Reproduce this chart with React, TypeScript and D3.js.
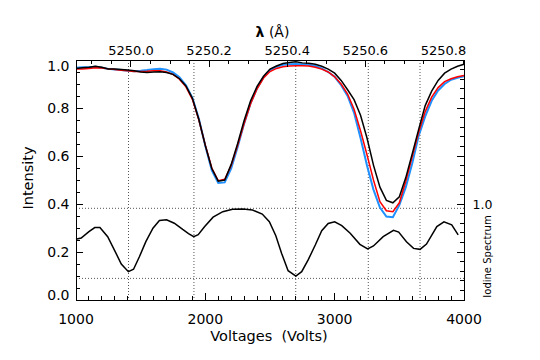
import React from "react";
import * as d3 from "d3";

// Voltage grid of the three spectra (Volts)
const volts = [
  1000, 1050, 1100, 1150, 1200, 1250, 1300, 1350, 1400, 1450,
  1500, 1550, 1600, 1650, 1700, 1750, 1800, 1850, 1900, 1950,
  2000, 2050, 2100, 2150, 2200, 2250, 2300, 2350, 2400, 2450,
  2500, 2550, 2600, 2650, 2700, 2750, 2800, 2850, 2900, 2950,
  3000, 3050, 3100, 3150, 3200, 3250, 3300, 3350, 3400, 3450,
  3500, 3550, 3600, 3650, 3700, 3750, 3800, 3850, 3900, 3950, 4000,
];

const blackSpectrum = [
  0.965, 0.968, 0.970, 0.974, 0.970, 0.963, 0.962, 0.960, 0.958, 0.955,
  0.950, 0.948, 0.950, 0.951, 0.948, 0.940, 0.922, 0.892, 0.840, 0.752,
  0.643, 0.548, 0.495, 0.500, 0.565, 0.652, 0.748, 0.830, 0.890, 0.932,
  0.962, 0.975, 0.985, 0.990, 0.993, 0.988, 0.986, 0.982, 0.974, 0.962,
  0.945, 0.915, 0.876, 0.835, 0.770, 0.675, 0.562, 0.470, 0.415, 0.405,
  0.430, 0.510, 0.610, 0.712, 0.810, 0.870, 0.915, 0.945, 0.962, 0.974, 0.982,
];

const redSpectrum = [
  0.962, 0.963, 0.965, 0.968, 0.967, 0.963, 0.960, 0.957, 0.955, 0.952,
  0.952, 0.953, 0.955, 0.955, 0.950, 0.940, 0.920, 0.888, 0.836, 0.750,
  0.645, 0.550, 0.497, 0.503, 0.560, 0.645, 0.735, 0.818, 0.880, 0.925,
  0.952, 0.965, 0.972, 0.975, 0.976, 0.976, 0.975, 0.970, 0.962, 0.950,
  0.930, 0.900, 0.858, 0.795, 0.705, 0.605, 0.500, 0.410, 0.372, 0.368,
  0.405, 0.495, 0.598, 0.700, 0.785, 0.845, 0.885, 0.910, 0.922, 0.930, 0.935,
];

const blueSpectrum = [
  0.968, 0.970, 0.970, 0.972, 0.968, 0.963, 0.960, 0.958, 0.955, 0.953,
  0.955, 0.958, 0.962, 0.964, 0.960, 0.948, 0.928, 0.895, 0.842, 0.755,
  0.642, 0.540, 0.488, 0.490, 0.548, 0.638, 0.735, 0.820, 0.882, 0.928,
  0.958, 0.972, 0.980, 0.982, 0.983, 0.982, 0.980, 0.975, 0.965, 0.950,
  0.930, 0.895, 0.850, 0.780, 0.675, 0.560, 0.460, 0.385, 0.348, 0.345,
  0.395, 0.470, 0.570, 0.685, 0.765, 0.830, 0.873, 0.900, 0.918, 0.926, 0.932,
];

// Iodine spectrum (plotted on the intensity scale)
const iodineVolts = [
  1000, 1040, 1100, 1145, 1185, 1245, 1300, 1350, 1405, 1445,
  1490, 1540, 1595, 1645, 1700, 1760, 1825, 1870, 1910, 1945,
  1995, 2060, 2135, 2210, 2290, 2365, 2440, 2495, 2545, 2590,
  2640, 2700, 2745, 2795, 2850, 2900, 2950, 3000, 3055, 3120,
  3195, 3255, 3300, 3375, 3455, 3495, 3555, 3610, 3660, 3710,
  3790, 3845, 3905, 3955,
];
const iodineValues = [
  0.253, 0.258, 0.285, 0.302, 0.302, 0.264, 0.205, 0.150, 0.118, 0.128,
  0.180, 0.243, 0.299, 0.331, 0.334, 0.320, 0.294, 0.277, 0.264, 0.272,
  0.306, 0.345, 0.368, 0.378, 0.379, 0.375, 0.358, 0.326, 0.268, 0.194,
  0.122, 0.100, 0.118, 0.167, 0.229, 0.289, 0.319, 0.326, 0.310, 0.278,
  0.232, 0.213, 0.225, 0.264, 0.290, 0.283, 0.243, 0.215, 0.211, 0.233,
  0.306, 0.326, 0.313, 0.271,
];

// Reference lines
const markerVolts = [1406, 1912, 2699, 3260, 3660];
const levelLines = [0.382, 0.09];

// Axis ticks
const xMajorTicks = [1000, 2000, 3000, 4000];
const yMajorTicks = [0, 0.2, 0.4, 0.6, 0.8, 1.0];
const lambdaMajorTicks = [5250.0, 5250.2, 5250.4, 5250.6, 5250.8];
const rightLabelTicks = [1.0];

const W = 540;
const H = 360;
const L = 76, R = 464, T = 60, B = 300;

const FONT = "DejaVu Sans, Verdana, sans-serif";

export default function App() {
  const x = d3.scaleLinear().domain([1000, 4000]).range([L, R]);
  const y = d3.scaleLinear().domain([0, 1]).range([B, T]);
  const lam = d3.scaleLinear().domain([5249.8592, 5250.8525]).range([L, R]);
  const yr = d3.scaleLinear().domain([0, 2.5]).range([B, T]);

  const line = d3
    .line<[number, number]>()
    .x((d) => x(d[0]))
    .y((d) => y(d[1]));

  const pts = (vals: number[], xs: number[]) =>
    vals.map((v, i) => [xs[i], v] as [number, number]);

  const xMinor = d3.range(1000, 4001, 100);
  const yMinor = d3.range(0, 1.0001, 0.05);
  const lamMinor = d3.range(5249.9, 5250.86, 0.05);
  const rMinor = d3.range(0, 2.5001, 0.1);

  const isMajor = (v: number, step: number) =>
    Math.abs(v / step - Math.round(v / step)) < 1e-6;

  const dotted = { stroke: "#555", strokeWidth: 1, strokeDasharray: "1 2" };

  return (
    <svg
      width={W}
      height={H}
      style={{ position: "absolute", left: 0, top: 0, background: "#fff" }}
      fontFamily={FONT}
    >
      <rect x={0} y={0} width={W} height={H} fill="#fff" />

      {/* reference dotted lines */}
      {markerVolts.map((v) => (
        <line key={"mv" + v} x1={x(v)} x2={x(v)} y1={T} y2={B} {...dotted} />
      ))}
      {levelLines.map((v) => (
        <line key={"hl" + v} x1={L} x2={R} y1={y(v)} y2={y(v)} {...dotted} />
      ))}

      {/* spectra */}
      <path d={line(pts(blueSpectrum, volts)) || ""} fill="none" stroke="#1e90ff" strokeWidth={2} />
      <path d={line(pts(redSpectrum, volts)) || ""} fill="none" stroke="#ff0000" strokeWidth={1.5} />
      <path d={line(pts(blackSpectrum, volts)) || ""} fill="none" stroke="#000" strokeWidth={1.5} />
      <path d={line(pts(iodineValues, iodineVolts)) || ""} fill="none" stroke="#000" strokeWidth={1.5} />

      {/* frame */}
      <rect x={L} y={T} width={R - L} height={B - T} fill="none" stroke="#000" strokeWidth={1} shapeRendering="crispEdges" />

      {/* bottom ticks */}
      {xMinor.map((v) => {
        const len = isMajor(v, 1000) ? 7 : 4;
        return <line key={"xb" + v} x1={x(v)} x2={x(v)} y1={B} y2={B - len} stroke="#000" shapeRendering="crispEdges" />;
      })}
      {/* top ticks */}
      {lamMinor.map((v) => {
        const len = isMajor(v, 0.2) ? 7 : 4;
        return <line key={"xt" + v} x1={lam(v)} x2={lam(v)} y1={T} y2={T + len} stroke="#000" shapeRendering="crispEdges" />;
      })}
      {/* left ticks */}
      {yMinor.map((v) => {
        const len = isMajor(v, 0.2) ? 7 : 4;
        return <line key={"yl" + v} x1={L} x2={L + len} y1={y(v)} y2={y(v)} stroke="#000" shapeRendering="crispEdges" />;
      })}
      {/* right ticks */}
      {rMinor.map((v) => {
        const len = isMajor(v, 0.5) ? 7 : 4;
        return <line key={"yr" + v} x1={R} x2={R - len} y1={yr(v)} y2={yr(v)} stroke="#000" shapeRendering="crispEdges" />;
      })}

      {/* bottom labels */}
      {xMajorTicks.map((v) => (
        <text key={"xbl" + v} x={x(v)} y={324} fontSize={14} textAnchor="middle" fill="#000">
          {v}
        </text>
      ))}
      <text x={269} y={341} fontSize={14.5} textAnchor="middle" fill="#000" style={{ whiteSpace: "pre" }}>
        {"Voltages  (Volts)"}
      </text>

      {/* top labels */}
      {lambdaMajorTicks.map((v) => (
        <text key={"xtl" + v} x={lam(v)} y={55} fontSize={13} textAnchor="middle" fill="#000">
          {v.toFixed(1)}
        </text>
      ))}
      <text x={272.5} y={37} fontSize={14} textAnchor="middle" fill="#000" style={{ whiteSpace: "pre" }}>
        <tspan fontWeight="bold">λ</tspan>
        {" (Å)"}
      </text>

      {/* left labels */}
      {yMajorTicks.map((v) => {
        const cy = Math.min(Math.max(y(v), T + 6), B - 5);
        return (
          <text key={"yll" + v} x={69.5} y={cy + 5} fontSize={14} textAnchor="end" fill="#000">
            {v.toFixed(1)}
          </text>
        );
      })}
      <text
        transform={`translate(33,178) rotate(-90)`}
        fontSize={14.5}
        textAnchor="middle"
        fill="#000"
      >
        Intensity
      </text>

      {/* right labels */}
      {rightLabelTicks.map((v) => (
        <text key={"yrl" + v} x={472.5} y={yr(v) + 4.5} fontSize={12.5} fill="#000">
          {v.toFixed(1)}
        </text>
      ))}
      <text
        transform={`translate(490.5,256.5) rotate(-90)`}
        fontSize={10}
        textAnchor="middle"
        fill="#000"
      >
        Iodine Spectrum
      </text>
    </svg>
  );
}
